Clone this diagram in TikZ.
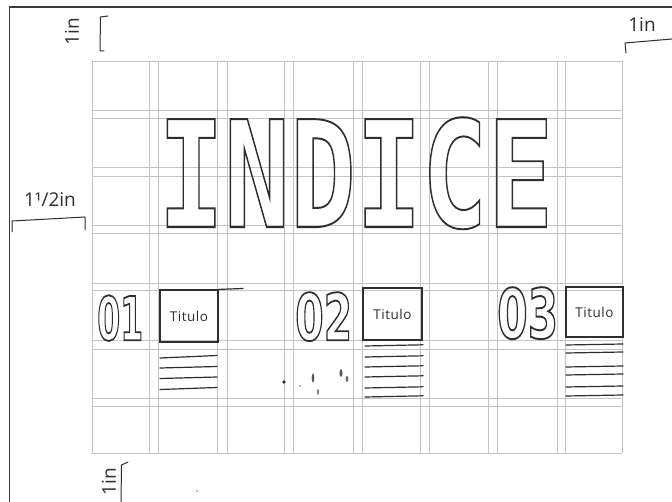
\documentclass[tikz,border=0pt]{standalone}
\usepackage{fontspec}
\setmainfont{Open Sans}
\newfontfamily\monofnt{DejaVu Sans Mono}
\newfontfamily\digitfnt{DejaVu Sans}
\newcommand{\outlinedtxt}[2]{\special{pdf:literal direct 1 Tr #1 w}#2\special{pdf:literal direct 0 Tr}}
\definecolor{pencil}{HTML}{2E2E2E}
\definecolor{gridc}{HTML}{C4C4C4}
\definecolor{framec}{HTML}{3A3A3A}
\tikzset{
  gridline/.style={draw=gridc, line width=0.8pt},
  hand/.style={draw=pencil, line width=1.2pt, line cap=round, line join=round},
  titlebox/.style={draw=pencil, line width=1.2pt, inner sep=0pt, font=\fontsize{13.5}{13.5}\selectfont\addfontfeatures{LetterSpace=4}, text=pencil},
  note/.style={text=pencil, inner sep=0pt, font=\fontsize{19}{19}\selectfont},
  bigtxt/.style={inner sep=0pt, anchor=north west, text=pencil},
}
\begin{document}
\begin{tikzpicture}[x=1pt, y=-1pt]
\useasboundingbox (0,0) rectangle (672,502);
\fill[white] (0,0) rectangle (672,502);
% scan frame
\draw[framec, line width=1.8pt] (9.5,502) -- (9.5,7) -- (672,7);
% grid
\foreach \gx in {92,149,158,217,227,284,293,353,362,420,429,488,497,557,565,622}
  \draw[gridline] (\gx,61) -- (\gx,453);
\foreach \gy in {61,110,118,167,176,225,233,283,290,340,349,398,406,453}
  \draw[gridline] (92,\gy) -- (622,\gy);
% title
\node[bigtxt] (title) at (158,117) {\resizebox{395pt}{110pt}{\outlinedtxt{0.13}{\monofnt\bfseries INDICE}}};
% numbers
\node[bigtxt] (n1) at (97,295) {\resizebox{46pt}{45pt}{\outlinedtxt{0.3}{\digitfnt\bfseries 01}}};
\node[bigtxt] (n2) at (295,292) {\resizebox{57pt}{48pt}{\outlinedtxt{0.28}{\digitfnt\bfseries 02}}};
\node[bigtxt] (n3) at (497,287) {\resizebox{61pt}{51pt}{\outlinedtxt{0.28}{\digitfnt\bfseries 03}}};
% title boxes
\node[titlebox, minimum width=58pt, minimum height=52pt] (box1) at (189,316) {Titulo};
\node[titlebox, minimum width=59pt, minimum height=52pt] (box2) at (392.5,314) {Titulo};
\node[titlebox, minimum width=57pt, minimum height=50pt] (box3) at (594.5,312) {Titulo};
\draw[hand] (box1.north east) -- (243,288.5);
% text lines under boxes
\draw[hand] (160,358) -- (217,355.5);
\draw[hand] (160,368) -- (217,366.5);
\draw[hand] (160,378.5) -- (217,377);
\draw[hand] (160,389.5) -- (217,387.5);
\foreach \ly in {346,357,367,377,388,397}
  \draw[hand] (365,\ly) -- (423,\ly-1.2);
\foreach \ly in {345,353,367,375,387,396}
  \draw[hand] (566,\ly) -- (623,\ly-1);
% smudges
\fill[pencil] (284,382) circle (1.8);
\fill[pencil!70] (300,386) circle (0.8);
\fill[pencil!80] (313,378) ellipse (1.3 and 4.5);
\fill[pencil!60] (318,392) ellipse (1.1 and 2.8);
\fill[pencil!80] (341,373) ellipse (1.5 and 4);
\fill[pencil!70] (347,379) ellipse (1.3 and 3);
\fill[pencil!60] (197,491) circle (0.9);
% measurement notes
\node[note, rotate=90] (m1) at (72,32) {1in};
\draw[hand, line width=1pt] (108,16) -- (100.5,17) -- (100,51) -- (104,51);
\node[note] (m2) at (642,25) {1in};
\draw[hand, line width=1pt] (626,53) -- (625,43) -- (672,39);
\node[note] (m3) at (50,200) {1¹/2in};
\draw[hand, line width=1pt] (12,232) -- (12,221) -- (85,217) -- (85,230);
\node[note, rotate=90] (m4) at (109,482) {1in};
\draw[hand, line width=1pt] (128,462) -- (121.5,465) -- (121,502);
\end{tikzpicture}
\end{document}
